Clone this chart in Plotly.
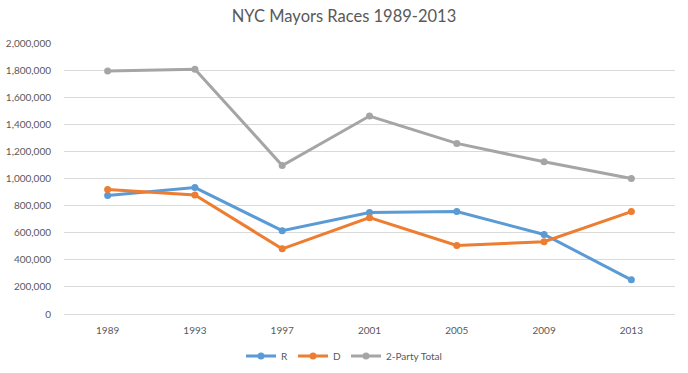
import plotly.graph_objects as go

years = ["1989", "1993", "1997", "2001", "2005", "2009", "2013"]
r_votes = [874000, 933000, 615000, 749000, 756000, 587000, 252000]
d_votes = [918000, 879000, 481000, 711000, 506000, 533000, 756000]
total_votes = [1793000, 1807000, 1096000, 1461000, 1259000, 1123000, 1000000]

series = [
    ("R", r_votes, "#5B9BD5"),
    ("D", d_votes, "#ED7D31"),
    ("2-Party Total", total_votes, "#A5A5A5"),
]

fig = go.Figure()
for name, vals, color in series:
    fig.add_trace(go.Scatter(
        x=years, y=vals, name=name, mode="lines+markers",
        line=dict(color=color, width=3),
        marker=dict(color=color, size=7),
    ))

W, H = 688, 373
font_family = "Lato, Carlito, Calibri, 'Open Sans', sans-serif"
fig.update_layout(
    width=W, height=H,
    margin=dict(l=64, r=13, t=43, b=59, autoexpand=False),
    paper_bgcolor="white", plot_bgcolor="white",
    font=dict(family=font_family, color="#595959", size=10),
    title=dict(text="NYC Mayors Races 1989-2013", x=0.5, xanchor="center",
               xref="container", yref="container",
               y=1 - 16 / H, yanchor="middle",
               font=dict(size=16.5, color="#595959", family=font_family)),
    showlegend=True,
    legend=dict(orientation="h", x=0.5, xanchor="center",
                xref="container", yref="container",
                y=(H - 356) / H, yanchor="middle",
                font=dict(size=10, color="#595959"), itemwidth=30,
                traceorder="normal"),
    xaxis=dict(type="category", range=[-0.5, 6.5], showgrid=False,
               showline=True, linecolor="#d9d9d9", linewidth=1,
               ticks="outside", ticklen=7, tickcolor="rgba(0,0,0,0)",
               automargin=False,
               tickfont=dict(size=10, color="#595959")),
    yaxis=dict(range=[0, 2000000], dtick=200000, tickformat=",",
               showgrid=True, gridcolor="#d9d9d9", gridwidth=1,
               zeroline=False, showline=False,
               ticks="outside", ticklen=10, tickcolor="rgba(0,0,0,0)",
               automargin=False,
               tickfont=dict(size=10, color="#595959")),
)

fig.write_html(
    "out.html",
    config={"displayModeBar": False},
    post_script="document.body.style.margin='0';document.body.style.overflow='hidden';",
)
